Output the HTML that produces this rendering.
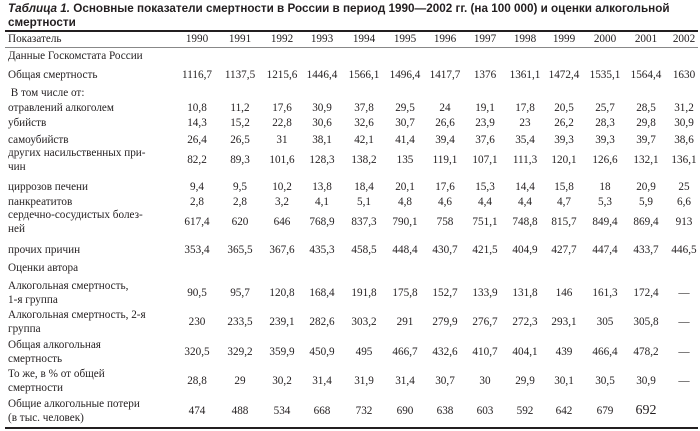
<!DOCTYPE html>
<html><head><meta charset="utf-8"><style>
body{margin:0;width:700px;height:431px;background:#fff;position:relative;overflow:hidden;font-family:"Liberation Serif","Noto Serif CJK SC",serif;font-size:11.2px;color:#231f20}
.t{position:absolute;left:8px;font-family:"Liberation Sans",sans-serif;font-weight:bold;font-size:11.7px;line-height:14px;color:#231f20;white-space:nowrap}
.r{position:absolute;left:0;width:700px;height:14px;line-height:14px}
.l{position:absolute;left:8px;white-space:nowrap;line-height:14px}
.n{position:absolute;width:50px;margin-left:-25px;text-align:center}
.h{position:absolute;left:5px;width:693px;background:#231f20}
</style></head><body>
<div class="t" style="top:2px"><i>Таблица 1.</i> Основные показатели смертности в России в период 1990—2002 гг. (на 100&nbsp;000) и оценки алкогольной<br>смертности</div>
<div class="h" style="top:30px;height:2px"></div>
<div class="h" style="top:47px;height:1px;background:#888"></div>
<div class="h" style="top:427px;height:2px"></div>
<div id="rows"></div>
<script>
var cols=[197,240,282,322,364,405,445,485,525,564,605,646,684];
var rows=[
[39,"Показатель",["1990","1991","1992","1993","1994","1995","1996","1997","1998","1999","2000","2001","2002"]],
[56,"Данные Госкомстата России",[]],
[75,"Общая смертность",["1116,7","1137,5","1215,6","1446,4","1566,1","1496,4","1417,7","1376","1361,1","1472,4","1535,1","1564,4","1630"]],
[93,"&nbsp;В том числе от:",[]],
[108,"отравлений алкоголем",["10,8","11,2","17,6","30,9","37,8","29,5","24","19,1","17,8","20,5","25,7","28,5","31,2"]],
[123,"убийств",["14,3","15,2","22,8","30,6","32,6","30,7","26,6","23,9","23","26,2","28,3","29,8","30,9"]],
[140,"самоубийств",["26,4","26,5","31","38,1","42,1","41,4","39,4","37,6","35,4","39,3","39,3","39,7","38,6"]],
[160,"других насильственных при-<br>чин",["82,2","89,3","101,6","128,3","138,2","135","119,1","107,1","111,3","120,1","126,6","132,1","136,1"]],
[187,"циррозов печени",["9,4","9,5","10,2","13,8","18,4","20,1","17,6","15,3","14,4","15,8","18","20,9","25"]],
[202,"панкреатитов",["2,8","2,8","3,2","4,1","5,1","4,8","4,6","4,4","4,4","4,7","5,3","5,9","6,6"]],
[222,"сердечно-сосудистых болез-<br>ней",["617,4","620","646","768,9","837,3","790,1","758","751,1","748,8","815,7","849,4","869,4","913"]],
[250,"прочих причин",["353,4","365,5","367,6","435,3","458,5","448,4","430,7","421,5","404,9","427,7","447,4","433,7","446,5"]],
[268,"Оценки автора",[]],
[293,"Алкогольная смертность,<br>1-я группа",["90,5","95,7","120,8","168,4","191,8","175,8","152,7","133,9","131,8","146","161,3","172,4","—"]],
[322,"Алкогольная смертность, 2-я<br>группа",["230","233,5","239,1","282,6","303,2","291","279,9","276,7","272,3","293,1","305","305,8","—"]],
[352,"Общая алкогольная<br>смертность",["320,5","329,2","359,9","450,9","495","466,7","432,6","410,7","404,1","439","466,4","478,2","—"]],
[381,"То же, в % от общей<br>смертности",["28,8","29","30,2","31,4","31,9","31,4","30,7","30","29,9","30,1","30,5","30,9","—"]],
[411,"Общие алкогольные потери<br>(в тыс. человек)",["474","488","534","668","732","690","638","603","592","642","679","<span style='font-size:14px'>692</span>",""]]
];
var h="";
rows.forEach(function(r){
 var two=r[1].indexOf("<br>")>=0;
 h+='<div class="r" style="top:'+(r[0]-7)+'px"><div class="l" style="top:'+(two?-7:0)+'px">'+r[1]+'</div>';
 r[2].forEach(function(v,i){h+='<div class="n" style="left:'+cols[i]+'px">'+v+'</div>';});
 h+='</div>';
});
document.getElementById("rows").innerHTML=h;
</script>
</body></html>
